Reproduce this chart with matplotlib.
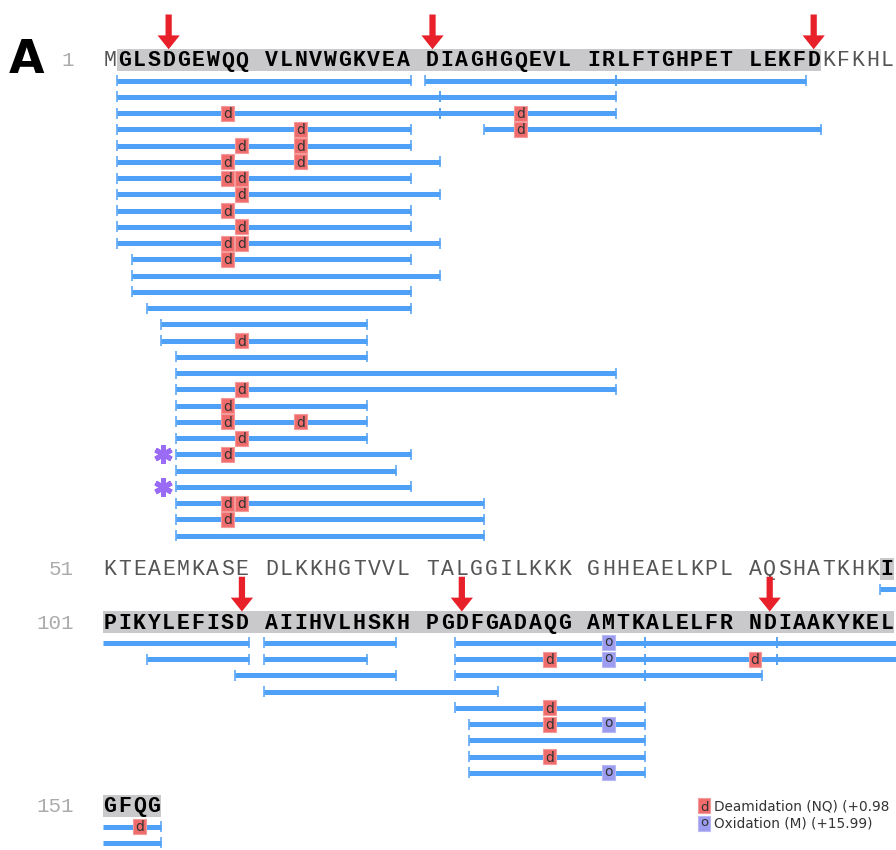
import matplotlib.pyplot as plt
from matplotlib.patches import Rectangle, FancyArrowPatch


# myoglobin sequence, in groups of ten as printed
seq_groups = ["MGLSDGEWQQ", "VLNVWGKVEA", "DIAGHGQEVL", "IRLFTGHPET", "LEKFDKFKHL",
              "KTEAEMKASE", "DLKKHGTVVL", "TALGGILKKK", "GHHEAELKPL", "AQSHATKHKI",
              "PIKYLEFISD", "AIIHVLHSKH", "PGDFGADAQG", "AMTKALELFR", "NDIAAKYKEL",
              "GFQG"]
sequence = "".join(seq_groups)

cleavage_sites = [5, 21, 45, 110, 123, 142]

# peptides: first / last residue, stacking track
pep_start = [2, 21, 33, 2, 22, 2, 22, 2, 25, 2, 2, 2, 2, 2, 2, 2, 3, 3, 3, 4, 5, 5,
             6, 6, 6, 6, 6, 6, 6, 6, 6, 6, 6, 6,
             100, 111, 123, 135, 143, 104, 111, 123, 135, 143, 110, 123, 135, 111,
             123, 124, 124, 124, 124]
pep_end = [20, 32, 44, 21, 32, 21, 32, 20, 45, 20, 21, 20, 21, 20, 20, 21, 20, 21, 20, 20, 17, 17,
           17, 32, 32, 17, 17, 17, 20, 19, 20, 24, 24, 24,
           110, 119, 134, 142, 154, 110, 117, 134, 142, 154, 119, 134, 141, 125,
           134, 134, 134, 134, 134]
pep_track = [0, 0, 0, 1, 1, 2, 2, 3, 3, 4, 5, 6, 7, 8, 9, 10, 11, 12, 13, 14, 15, 16,
             17, 18, 19, 20, 21, 22, 23, 24, 25, 26, 27, 28,
             0, 0, 0, 0, 0, 1, 1, 1, 1, 1, 2, 2, 2, 3,
             4, 5, 6, 7, 8]
deamidation = [[], [], [], [], [], [9], [27], [13], [27], [10, 13], [9, 13], [9, 10], [10], [9],
               [10], [9, 10], [9], [], [], [], [], [10],
               [], [], [10], [9], [9, 13], [10], [9], [], [], [9, 10], [9], [],
               [], [], [], [], [153], [], [], [129], [141], [], [], [], [], [],
               [129], [129], [], [129], []]
oxidation = [[]] * 36 + [[132], [], [], [], [], [132]] + [[]] * 7 + [[132], [], [], [132]]
flagged = [28, 30]

legend_labels = ["Deamidation (NQ) (+0.98", "Oxidation (M) (+15.99)"]

W, H = 896, 850
PX_SLOT = 14.66
PX_TRACK = 16.25
LINE_LEN = 50
BLUE = '#4fa0f7'
MOD_COLORS = {'d': ('#f06c6c', '#f49a9a'), 'o': ('#9c9cf0', '#b8b8f4')}
SEQ_FONT = 'Liberation Mono'


def line_of(res):
	return (res - 1) // LINE_LEN


def slot(res):
	k = (res - 1) % LINE_LEN
	return k + k // 10


n_lines = line_of(len(sequence)) + 1
tracks = [0] * n_lines
for s, e, t in zip(pep_start, pep_end, pep_track):
	for ln in range(line_of(s), line_of(e) + 1):
		tracks[ln] = max(tracks[ln], t + 1)

text_y = []
y = 60 / PX_TRACK
for n in tracks:
	text_y.append(y)
	y += 1.27 + (n - 1) + 2.03


def bar_y(ln, t):
	return text_y[ln] + 1.27 + t


covered = set()
for s, e in zip(pep_start, pep_end):
	covered.update(range(s, e + 1))

fig = plt.figure(figsize=(W / 100, H / 100), dpi=100)
ax = fig.add_axes([0, 0, 1, 1])
ax.set_xlim(-110 / PX_SLOT, (W - 110) / PX_SLOT)
ax.set_ylim(H / PX_TRACK, 0)
ax.axis('off')

ax.text(-83 / PX_SLOT, text_y[0] + 0.82, 'A', fontsize=33, fontweight='bold',
		family='DejaVu Sans', ha='center', va='baseline')

# sequence lines with grey coverage band
for ln in range(n_lines):
	first = ln * LINE_LEN + 1
	last = min(first + LINE_LEN - 1, len(sequence))
	ty = text_y[ln]
	ax.text(-2.45, ty + 0.4, str(first), ha='right', va='baseline', color='#ababab',
			family=SEQ_FONT, fontsize=15)
	res = first
	while res <= last:
		if res in covered:
			end = res
			while end + 1 <= last and end + 1 in covered:
				end += 1
			ax.add_patch(Rectangle((slot(res) - 0.5, ty - 0.68), slot(end) - slot(res) + 1, 1.36,
								   facecolor='#c9c8ca', edgecolor='none', zorder=0))
			res = end + 1
		else:
			res += 1
	for res in range(first, last + 1):
		aa = sequence[res - 1]
		if res in covered:
			ax.text(slot(res), ty + 0.4, aa, ha='center', va='baseline', family=SEQ_FONT,
					fontsize=15.5, fontweight='bold', color='black', zorder=2)
		else:
			ax.text(slot(res), ty + 0.4, aa, ha='center', va='baseline', family=SEQ_FONT,
					fontsize=15.5, color='#555555', zorder=2)

for site in cleavage_sites:
	ln = line_of(site)
	x = slot(site)
	ax.add_patch(FancyArrowPatch((x, text_y[ln] - 2.8), (x, text_y[ln] - 0.66),
								 arrowstyle='simple,head_length=1.0,head_width=1.6,tail_width=0.45',
								 mutation_scale=10, color='#e8202a', lw=0,
								 shrinkA=0, shrinkB=0, zorder=3))


def mod_box(x, y, letter, size=10):
	face, edge = MOD_COLORS[letter]
	ax.add_patch(Rectangle((x - 0.44, y - 0.46), 0.88, 0.92, facecolor=face,
						   edgecolor=edge, lw=0.8, zorder=4))
	off = 0.3 if letter == 'd' else 0.2
	ax.text(x, y + off, letter, ha='center', va='baseline', fontsize=size,
			family='DejaVu Sans', color='#333333', zorder=5)


# peptide bars
for i, (s, e, t) in enumerate(zip(pep_start, pep_end, pep_track)):
	for ln in range(line_of(s), line_of(e) + 1):
		a = max(s, ln * LINE_LEN + 1)
		b = min(e, ln * LINE_LEN + LINE_LEN)
		by = bar_y(ln, t)
		x0 = slot(a) - 0.5
		x1 = slot(b) + 0.5
		if b < e:
			x1 += 0.2
		ax.plot([x0, x1], [by, by], lw=3.6, color=BLUE, solid_capstyle='butt', zorder=2)
		if a == s:
			ax.vlines(x0, by - 0.34, by + 0.34, lw=1.1, color=BLUE, zorder=2)
		if b == e:
			ax.vlines(x1, by - 0.34, by + 0.34, lw=1.1, color=BLUE, zorder=2)
		for r in deamidation[i]:
			if line_of(r) == ln:
				mod_box(slot(r), by, 'd')
		for r in oxidation[i]:
			if line_of(r) == ln:
				mod_box(slot(r), by, 'o')
	if i in flagged:
		ln = line_of(s)
		ax.plot(slot(s) - 1.38, bar_y(ln, t), marker=(6, 2, 0), ms=13, mew=3.6,
				color='#9a6cf6', zorder=3)

# legend
for j, (letter, label) in enumerate(zip(['d', 'o'], legend_labels)):
	ly = text_y[-1] + 1.06 * j
	mod_box(40.52, ly, letter, size=9.5)
	ax.text(41.2, ly + 0.3, label, ha='left', va='baseline', fontsize=9.8,
			family='DejaVu Sans', color='#333333', clip_on=True)

plt.savefig('out.png', dpi=100)
